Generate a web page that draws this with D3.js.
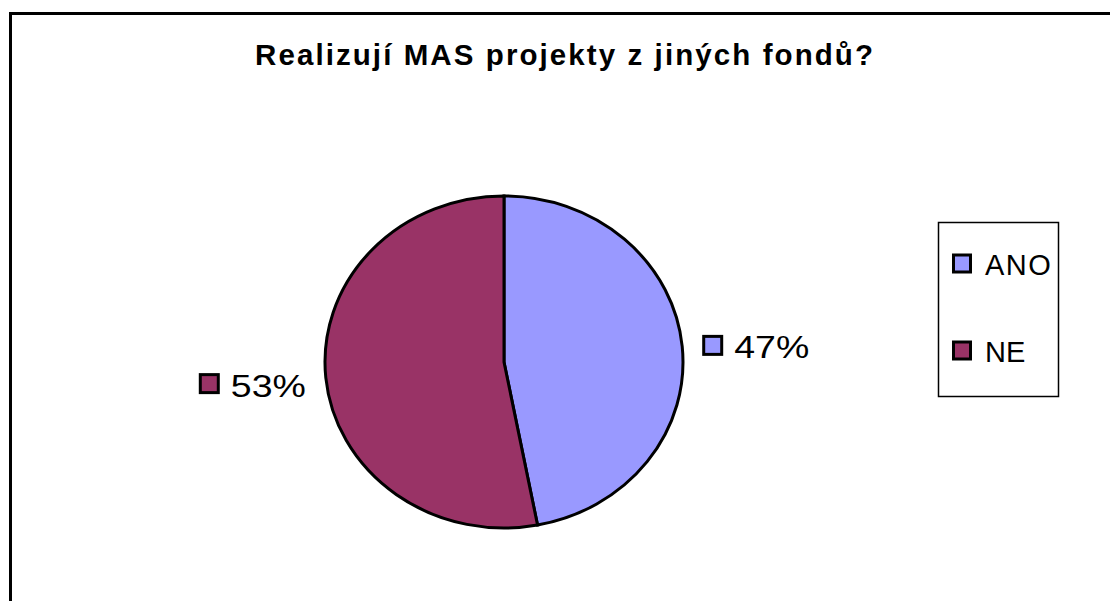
<!DOCTYPE html>
<html>
<head>
<meta charset="utf-8">
<script src="https://cdn.jsdelivr.net/npm/d3@7"></script>
<style>
  body { margin: 0; background: #fff; }
  text { font-family: "Liberation Sans", Arial, sans-serif; }
</style>
</head>
<body>
<svg id="pie-svg"></svg>
<script>
// chart data
const categories = ["ANO", "NE"];
const values = [47, 53];
const labels = ["47%", "53%"];
const colors = ["#9999FF", "#993366"];
const title = "Realizují MAS projekty z jiných fondů?";

const svgWidth = 1110, svgHeight = 601;
const cx = 504, cy = 362, rx = 179, ry = 166;

var svg = d3.select("#pie-svg")
    .attr("width", svgWidth)
    .attr("height", svgHeight);

// outer frame (runs off the right and bottom)
svg.append("rect")
    .attr("x", 10.5).attr("y", 13.5)
    .attr("width", 1300).attr("height", 800)
    .attr("fill", "none")
    .attr("stroke", "#000")
    .attr("stroke-width", 3);

// title
svg.append("text")
    .attr("x", 564).attr("y", 65)
    .attr("text-anchor", "middle")
    .attr("font-size", 29.5)
    .attr("font-weight", "bold")
    .attr("textLength", 618)
    .attr("lengthAdjust", "spacing")
    .text(title);

var data = categories.map((c, i) => ({cat: c, value: values[i], label: labels[i], color: colors[i]}));

var pie = d3.pie().sort(null).value(d => d.value);
var arcs = pie(data);
var arc = d3.arc().innerRadius(0).outerRadius(rx);

// slices, squeezed a little vertically
var pieG = svg.append("g")
    .attr("transform", "translate(" + cx + "," + cy + ") scale(1," + (ry / rx) + ")");
pieG.selectAll("path")
    .data(arcs)
    .enter()
    .append("path")
      .attr("d", arc)
      .attr("fill", d => d.data.color)
      .attr("stroke", "#000")
      .attr("stroke-width", 3)
      .attr("vector-effect", "non-scaling-stroke");

// data labels with colour key
var sw = 18, gap = 20, textW = 75;
arcs.forEach(function(a) {
  var mid = (a.startAngle + a.endAngle) / 2;
  var ex = cx + rx * Math.sin(mid), ey = cy - ry * Math.cos(mid);
  var right = Math.sin(mid) > 0;
  var gx = right ? ex + gap : ex - gap - (sw + 14 + textW);
  var gy = right ? ey : ey + 7;
  var g = svg.append("g").attr("transform", "translate(" + gx + "," + gy + ")");
  g.append("rect")
    .attr("x", 1.5).attr("y", -sw / 2 - 1)
    .attr("width", sw).attr("height", sw)
    .attr("fill", a.data.color)
    .attr("stroke", "#000").attr("stroke-width", 3);
  g.append("text")
    .attr("x", sw + 14).attr("y", 12)
    .attr("font-size", 31)
    .attr("textLength", textW)
    .attr("lengthAdjust", "spacingAndGlyphs")
    .text(a.data.label);
});

// legend
var legend = svg.append("g");
legend.append("rect")
    .attr("x", 938.5).attr("y", 222.5)
    .attr("width", 120).attr("height", 174)
    .attr("fill", "#fff")
    .attr("stroke", "#000").attr("stroke-width", 1.5);

var ly = d3.scalePoint().domain(categories).range([264, 351]);
var items = legend.selectAll("g.item")
    .data(data)
    .enter()
    .append("g")
      .attr("class", "item")
      .attr("transform", d => "translate(952," + ly(d.cat) + ")");
items.append("rect")
    .attr("x", 1.5).attr("y", -sw / 2)
    .attr("width", sw - 1).attr("height", sw - 1)
    .attr("fill", d => d.color)
    .attr("stroke", "#000").attr("stroke-width", 3);
items.append("text")
    .attr("x", 33).attr("y", 11)
    .attr("font-size", 29)
    .attr("letter-spacing", d => d.cat === "ANO" ? 1.5 : 0)
    .text(d => d.cat);
</script>
</body>
</html>
